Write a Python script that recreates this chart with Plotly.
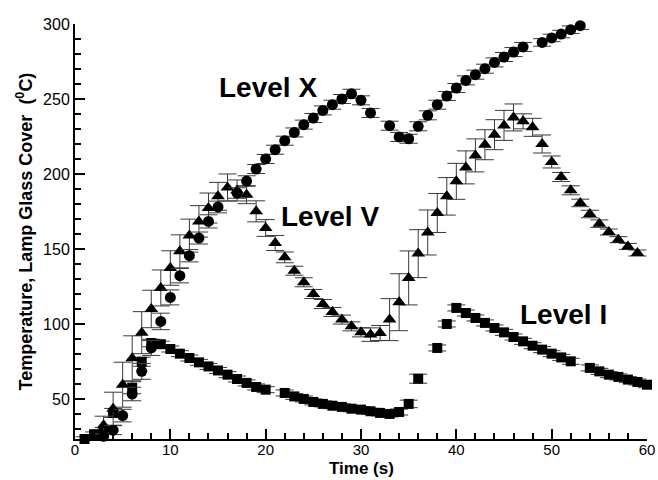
import plotly.graph_objects as go

# ---- Level X (circles) ----
tx = [3, 4, 5, 6, 7, 8, 9, 10, 11, 12, 13, 14, 15, 17, 18, 19, 20, 21, 22, 23, 24, 25, 26, 27, 28, 29, 30,
      31, 33, 34, 35, 36, 37, 38, 39, 40, 41, 42, 43, 44, 45, 46, 47, 49, 50, 51, 52, 53]
vx = [25.1, 29.2, 38.9, 53.3, 68.4, 84.0, 101.7, 117.7, 132.2, 145.5, 157.3, 168.4, 178.0, 187.3, 195.3,
      203.3, 210.0, 216.2, 222.2, 227.7, 232.9, 237.3, 242.4, 246.2, 250.0, 253.5, 249.1,
      240.7, 232.2, 224.7, 223.5, 231.8, 239.1, 246.2, 252.0, 257.3, 262.4, 266.2, 270.2, 274.4, 278.0,
      281.3, 284.7, 287.7, 290.7, 293.3, 296.2, 298.9]
ex = [2, 3, 4.2, 4.5, 5.3, 5, 5.5, 5, 4.8, 4.1, 4, 4.4, 3.9, 3.5, 3.5,
      3, 3, 3, 3, 3, 3, 3, 3, 3, 3, 3, 3,
      3, 3, 3, 3, 3, 3, 3, 3, 3, 3, 3, 3, 3, 3,
      3, 3, 2.5, 2.5, 2.5, 2.5, 2.5]

# ---- Level V (triangles) ----
tv = [3, 4, 5, 6, 7, 8, 9, 10, 11, 12, 13, 14, 15, 16, 17, 18, 19, 20, 21, 22, 23, 24, 25, 26, 27, 28,
      29, 30, 31, 32, 33, 34, 35, 36, 37, 38, 39, 40, 41, 42, 43, 44, 45, 46, 47, 48, 49, 50, 51, 52,
      53, 54, 55, 56, 57, 58, 59]
vv = [32.5, 43.5, 59.5, 77.1, 94.2, 110.0, 124.0, 137.3, 148.4, 158.9, 168.4, 177.3, 185.1, 191.0, 189.0,
      186.2, 175.1, 164.0, 154.0, 144.4, 135.5, 127.8, 120.0, 113.3, 108.0, 102.9,
      98.4, 94.4, 92.9, 94.0, 102.9, 114.5, 130.7, 146.9, 161.0, 174.0, 185.1, 195.1, 204.4, 212.4,
      219.5, 226.2, 232.4, 237.7, 235.1, 231.1, 220.0, 208.0, 198.0, 189.1,
      180.7, 173.3, 166.9, 161.3, 156.2, 151.7, 147.3]
ev = [6, 11, 15, 15, 14, 12.5, 12, 11.5, 11, 11, 10.5, 10, 9.3, 9, 7,
      6, 7, 5.6, 5, 3.6, 3, 3, 3, 3, 3, 3,
      3, 3, 4.5, 5, 14, 19, 18, 16, 15, 13, 12.5, 12, 11, 11,
      10, 10, 10, 9, 5, 6, 6, 4, 3, 3,
      2.5, 2.5, 2.5, 2, 2, 2, 2]

# ---- Level I (squares) ----
ti = [1, 2, 3, 4, 6, 7, 8, 9, 10, 11, 12, 13, 14, 15, 16, 17, 18, 19, 20, 22, 23, 24, 25, 26, 27, 28,
      29, 30, 31, 32, 33, 34, 35, 36, 38, 39, 40, 41, 42, 43, 44, 45, 46, 47, 48, 49, 50, 51, 52,
      54, 55, 56, 57, 58, 59, 60]
vi = [23.3, 26.5, 29.0, 40.7, 57.5, 74.8, 87.3, 86.5, 83.3, 80.2, 77.3, 74.4, 71.7, 69.0, 66.2, 63.3,
      60.7, 58.0, 56.2, 54.0, 51.7, 50.0, 48.0, 46.7, 45.5, 44.7,
      43.5, 42.9, 41.8, 40.7, 40.0, 41.3, 46.7, 63.5, 84.0, 100.0, 110.7, 107.3, 104.0, 100.7, 97.3,
      94.4, 91.3, 88.4, 85.5, 82.9, 80.2, 77.7, 75.1,
      70.7, 68.4, 66.2, 64.7, 62.9, 61.3, 59.5]
ei = [1.5, 1.5, 2, 3, 4, 3, 2.5, 2, 2, 2, 2, 2, 2, 2, 2, 2,
      2, 2, 2, 2, 2, 2, 2, 2, 2, 2,
      2, 2, 2, 2, 2, 2, 2.5, 3, 2, 2, 2, 2, 2, 2, 2,
      2, 2, 2, 2, 2, 2, 2, 2,
      2, 2, 2, 2, 2, 2, 2]

labels = ["Level X", "Level V", "Level I"]
label_x = [20.2, 26.7, 51.2]
label_y = [257.9, 171.7, 106.2]

x_title = "Time (s)"
y_title = "Temperature, Lamp Glass Cover  (<sup>0</sup>C)"

FONT = "Liberation Sans, Arial, Helvetica, sans-serif"
ERRC = "#3a3a3a"


def err(arr):
    return dict(type="data", array=arr, visible=True, color=ERRC, thickness=1, width=9)


fig = go.Figure()
fig.add_trace(go.Scatter(x=ti, y=vi, mode="markers", error_y=err(ei), cliponaxis=False,
                         marker=dict(symbol="square", size=10, color="black"), name="Level I"))
fig.add_trace(go.Scatter(x=tv, y=vv, mode="markers", error_y=err(ev), cliponaxis=False,
                         marker=dict(symbol="triangle-up", size=12, color="black"), name="Level V"))
fig.add_trace(go.Scatter(x=tx, y=vx, mode="markers", error_y=err(ex), cliponaxis=False,
                         marker=dict(symbol="circle", size=11, color="black"), name="Level X"))

for txt, lx, ly in zip(labels, label_x, label_y):
    fig.add_annotation(x=lx, y=ly, text="<b>%s</b>" % txt, showarrow=False,
                       font=dict(family=FONT, size=28, color="black"))

# x-axis title placed just below the tick labels
fig.add_annotation(x=0.5, y=0, xref="paper", yref="paper", xanchor="center", yanchor="middle",
                   yshift=-29, text="<b>%s</b>" % x_title, showarrow=False,
                   font=dict(family=FONT, size=17, color="black"))

fig.update_layout(
    width=658, height=480,
    margin=dict(l=75, r=11, t=24, b=41, autoexpand=False),
    paper_bgcolor="white", plot_bgcolor="white",
    showlegend=False,
    font=dict(family=FONT, size=15, color="black"),
    xaxis=dict(range=[0, 60], dtick=10, tick0=0, showgrid=False, zeroline=False, automargin=False,
               showline=True, linecolor="black", linewidth=2,
               ticks="inside", ticklen=10, tickwidth=2, tickcolor="black",
               ticklabelstandoff=-4,
               minor=dict(ticks="inside", ticklen=6, dtick=2, tickwidth=1.5, tickcolor="black", showgrid=False),
               tickfont=dict(family=FONT, size=15)),
    yaxis=dict(range=[23.3, 300], dtick=50, tick0=0, showgrid=False, zeroline=False, automargin=False,
               showline=True, linecolor="black", linewidth=2,
               ticks="inside", ticklen=10, tickwidth=2, tickcolor="black",
               minor=dict(ticks="inside", ticklen=6, dtick=10, tickwidth=1.5, tickcolor="black", showgrid=False),
               title=dict(text="<b>%s</b>" % y_title, font=dict(family=FONT, size=18), standoff=6),
               tickfont=dict(family=FONT, size=16)),
)

fig.write_html("out.html")
